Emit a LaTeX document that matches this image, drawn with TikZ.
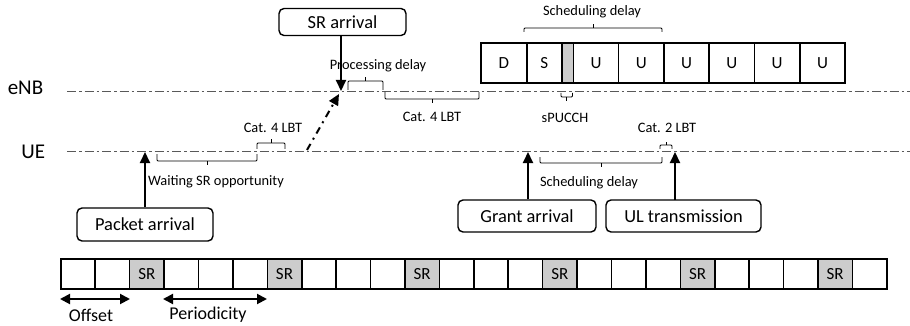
\documentclass[tikz,border=0pt]{standalone}
\usepackage{fontspec}
\setmainfont{Carlito}
\usetikzlibrary{arrows.meta}
\begin{document}
\begin{tikzpicture}[x=1pt,y=-1pt,
  box/.style={draw,line width=1.4pt,rounded corners=5pt,inner sep=0pt,font=\fontsize{18.4}{21}\selectfont},
  lbl/.style={font=\fontsize{14.4}{17}\selectfont,inner sep=0pt},
  biglbl/.style={font=\fontsize{21}{24}\selectfont,inner sep=0pt},
  timeline/.style={draw=black!65,line width=0.9pt,dash pattern=on 9pt off 3pt on 2.5pt off 3pt},
  brk/.style={draw,line width=0.8pt,rounded corners=1pt},
  evarrow/.style={draw,line width=2pt,-{Triangle[length=11pt,width=10pt]}},
  dblarrow/.style={draw,line width=2pt,{Triangle[length=10pt,width=10pt]}-{Triangle[length=10pt,width=10pt]}},
  cell/.style={draw,line width=1.6pt,minimum height=30pt,inner sep=0pt,anchor=north west,font=\fontsize{17}{20}\selectfont},
  tdd/.style={draw,line width=1.6pt,minimum height=40pt,inner sep=0pt,anchor=north west,font=\fontsize{17}{20}\selectfont},
  srcell/.style={fill=black!20}
]
\useasboundingbox (0,0) rectangle (910,326);

% timelines
\node[biglbl] (enb) at (25.5,88) {eNB};
\node[biglbl] (ue) at (33.3,152) {UE};
\coordinate (enbA) at (67,91);
\coordinate (enbB) at (910,91);
\coordinate (ueA) at (67,151);
\coordinate (ueB) at (910,151);
\draw[timeline] (enbA) -- (enbB);
\draw[timeline] (ueA) -- (ueB);

% TDD frame
\node[tdd,minimum width=46pt] (fD) at (480,42) {D};
\node[tdd,minimum width=35pt] (fS) at (526,42) {S};
\node[tdd,minimum width=11.5pt,fill=black!20] (fG) at (561,42) {};
\foreach \i in {0,...,5}{
  \node[tdd,minimum width=45.3pt] (fU\i) at ({572.5+45.3*\i},42) {U};
}

% bottom SR grid
\foreach \i in {0,...,23}{
  \pgfmathtruncatemacro{\m}{mod(\i,4)}
  \ifnum\m=2
    \node[cell,minimum width=34.42pt,srcell] (g\i) at ({60+34.417*\i},258) {SR};
  \else
    \node[cell,minimum width=34.42pt] (g\i) at ({60+34.417*\i},258) {};
  \fi
}

% offset / periodicity
\coordinate (offA) at (60,299);
\coordinate (offB) at (130,299);
\coordinate (perA) at (163,299);
\coordinate (perB) at (267,299);
\draw[dblarrow] (offA) -- (offB);
\draw[dblarrow] (perA) -- (perB);
\node[font=\fontsize{18}{21}\selectfont,inner sep=0pt] (offL) at (91,315) {Offset};
\node[font=\fontsize{18}{21}\selectfont,inner sep=0pt] (perL) at (208,315) {Periodicity};

% event boxes
\node[box,minimum width=136pt,minimum height=33pt] (pkt) at (145,224.5) {Packet arrival};
\node[box,minimum width=127pt,minimum height=27pt] (sr) at (342.5,22) {SR arrival};
\node[box,minimum width=138pt,minimum height=32pt] (grant) at (527,216) {Grant arrival};
\node[box,minimum width=155pt,minimum height=32pt] (ul) at (683.5,216) {UL transmission};

\coordinate (pktT) at (145,152);
\coordinate (srT) at (341,91);
\coordinate (grT) at (528,152);
\coordinate (ulS) at (675,200);
\coordinate (ulT) at (675,152);
\draw[evarrow] (pkt.north) -- (pktT);
\draw[evarrow] (sr.south -| srT) -- (srT);
\draw[evarrow] (grant.north -| grT) -- (grT);
\draw[evarrow] (ulS) -- (ulT);

% SR transmission (dash-dot arrow)
\coordinate (srtxA) at (307,150);
\coordinate (srtxB) at (339,94);
\draw[line width=2pt,dash pattern=on 7pt off 5pt on 2pt off 5pt,-{Triangle[length=11pt,width=10pt]}] (srtxA) -- (srtxB);

% brackets
% Processing delay
\draw[brk] (348,90) -- (348,81) -- (383,81) -- (383,90);
\draw[brk] (365.5,81) -- (365.5,77);
\node[lbl] (procL) at (378,66) {Processing delay};
% Cat. 4 LBT (eNB)
\draw[brk] (385,92) -- (385,99) -- (479,99) -- (479,92);
\draw[brk] (432,99) -- (432,103);
\node[lbl] (cat4e) at (432,117) {Cat. 4 LBT};
% Waiting SR opportunity
\draw[brk] (157,154) -- (157,161) -- (257,161) -- (257,154);
\draw[brk] (207,161) -- (207,165);
\node[lbl] (waitL) at (216,182) {Waiting SR opportunity};
% Cat. 4 LBT (UE)
\draw[brk] (257,149) -- (257,143) -- (285,143) -- (285,149);
\draw[brk] (271,143) -- (271,139);
\node[lbl] (cat4u) at (273,128) {Cat. 4 LBT};
% Scheduling delay (top)
\draw[brk] (524,32) -- (524,28) -- (662,28) -- (662,32);
\draw[brk] (593,28) -- (593,24);
\node[lbl] (schT) at (592,12) {Scheduling delay};
% sPUCCH
\draw[brk] (561,93) -- (561,97) -- (572.5,97) -- (572.5,93);
\draw[brk] (566.75,97) -- (566.75,101);
\node[lbl] (spucch) at (565,118) {sPUCCH};
% Cat. 2 LBT
\draw[brk] (660,149) -- (660,145) -- (672,145) -- (672,149);
\draw[brk] (666,145) -- (666,142);
\node[lbl] (cat2) at (667,128) {Cat. 2 LBT};
% Scheduling delay (bottom)
\draw[brk] (540,157) -- (540,163) -- (662,163) -- (662,157);
\draw[brk] (601,163) -- (601,167);
\node[lbl] (schB) at (589,183) {Scheduling delay};
\end{tikzpicture}
\end{document}
